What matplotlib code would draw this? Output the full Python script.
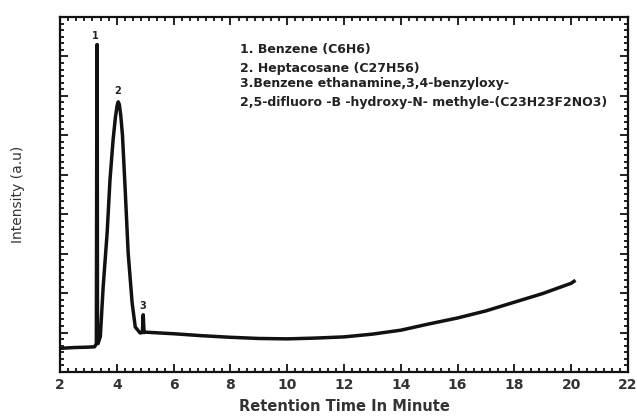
import matplotlib
matplotlib.use("Agg")
import matplotlib.pyplot as plt
from matplotlib.ticker import MultipleLocator, AutoMinorLocator

# retention time (min) and intensity (a.u.)
time_min = [2.0, 2.5, 3.0, 3.22, 3.28, 3.30, 3.31, 3.32, 3.34, 3.42,
            3.52, 3.66, 3.76, 3.87, 3.95, 4.01, 4.05, 4.09, 4.14, 4.20,
            4.29, 4.40, 4.54, 4.65, 4.82, 4.90, 4.93, 4.96, 5.0, 5.5,
            6.0, 7.0, 8.0, 9.0, 10.0, 11.0, 12.0, 13.0, 14.0, 15.0,
            16.0, 17.0, 18.0, 19.0, 20.0, 20.1]
intensity = [0.60, 0.62, 0.63, 0.64, 0.72, 8.30, 8.30, 0.75, 0.72, 0.90,
             2.16, 3.53, 4.87, 5.89, 6.45, 6.75, 6.85, 6.78, 6.50, 6.00,
             4.70, 3.02, 1.75, 1.14, 0.99, 1.00, 1.45, 1.00, 1.01, 0.99,
             0.97, 0.92, 0.88, 0.85, 0.84, 0.86, 0.89, 0.96, 1.06, 1.22,
             1.37, 1.55, 1.77, 1.99, 2.25, 2.30]

peak_labels = ["1", "2", "3"]
peak_time = [3.26, 4.03, 4.92]
peak_top = [8.4, 7.0, 1.55]

legend_lines = ["1. Benzene (C6H6)",
                "2. Heptacosane (C27H56)",
                "3.Benzene ethanamine,3,4-benzyloxy-",
                "2,5-difluoro -B -hydroxy-N- methyle-(C23H23F2NO3)"]
legend_y = [8.17, 7.69, 7.31, 6.83]

fig = plt.figure(figsize=(6.37, 4.19), dpi=100)
ax = fig.add_axes([60 / 637, 47 / 419, 568 / 637, 355 / 419])

ax.plot(time_min, intensity, color="#111111", lw=2.5, solid_joinstyle="round")

for lab, t, h in zip(peak_labels, peak_time, peak_top):
    ax.text(t, h, lab, ha="center", va="bottom", fontsize=7,
            fontweight="bold", color="#222222")

for s, yy in zip(legend_lines, legend_y):
    ax.text(8.35, yy, s, fontsize=9, fontweight="bold", color="#222222",
            va="center", ha="left")

ax.set_xlim(2, 22)
ax.set_ylim(0, 9)
ax.xaxis.set_major_locator(MultipleLocator(2))
ax.xaxis.set_minor_locator(AutoMinorLocator(7))
ax.yaxis.set_major_locator(MultipleLocator(1))
ax.yaxis.set_minor_locator(AutoMinorLocator(6))
ax.tick_params(which="both", direction="in", top=True, right=True,
               width=1.3, color="#111111")
ax.tick_params(which="major", length=6)
ax.tick_params(which="minor", length=3)
ax.tick_params(axis="y", labelleft=False)
ax.tick_params(axis="x", labelsize=10, labelcolor="#333333", pad=4)
for lbl in ax.get_xticklabels():
    lbl.set_fontweight("bold")
for sp in ax.spines.values():
    sp.set_linewidth(1.6)
    sp.set_color("#111111")

ax.set_xlabel("Retention Time In Minute", fontsize=10.5, fontweight="bold",
              color="#333333", labelpad=5)
ax.set_ylabel("Intensity (a.u)", fontsize=10, color="#333333", labelpad=22)

fig.savefig("out.png", dpi=100)
